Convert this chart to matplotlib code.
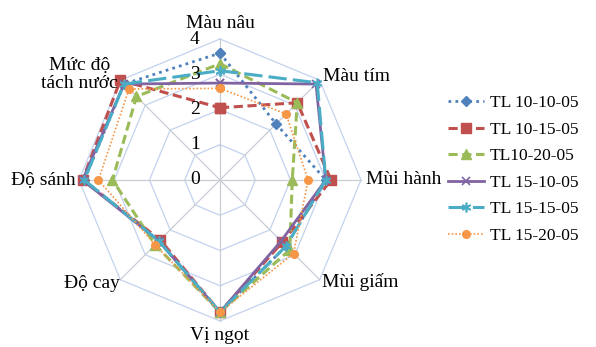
import numpy as np
import matplotlib
matplotlib.use("Agg")
import matplotlib.pyplot as plt
from matplotlib.transforms import offset_copy

plt.rcParams['font.family'] = ['Liberation Serif', 'DejaVu Serif']

# Sensory attributes, clockwise from the top
categories = ["Màu nâu", "Màu tím", "Mùi hành", "Mùi giấm",
              "Vị ngọt", "Độ cay", "Độ sánh", "Mức độ\ntách nước"]

series_names = ["TL 10-10-05", "TL 10-15-05", "TL10-20-05",
                "TL 15-10-05", "TL 15-15-05", "TL 15-20-05"]

tl_10_10_05 = [3.6, 2.25, 3.0, 2.65, 3.75, 2.45, 3.85, 3.85]
tl_10_15_05 = [2.05, 3.1, 3.15, 2.5, 3.75, 2.4, 3.9, 4.0]
tl_10_20_05 = [3.3, 3.1, 2.05, 2.8, 3.75, 2.6, 3.05, 3.35]
tl_15_10_05 = [2.75, 3.85, 3.0, 2.45, 3.75, 2.45, 3.9, 3.85]
tl_15_15_05 = [3.1, 3.9, 3.0, 2.65, 3.75, 2.45, 3.85, 3.85]
tl_15_20_05 = [2.6, 2.65, 2.5, 2.95, 3.75, 2.6, 3.45, 3.65]

scale_ticks = [0, 1, 2, 3, 4]

series_values = [tl_10_10_05, tl_10_15_05, tl_10_20_05,
                 tl_15_10_05, tl_15_15_05, tl_15_20_05]

styles = [
    dict(color="#4F81BD", linestyle=(0, (1, 1.5)), linewidth=2.0, marker="D", markersize=5.5),
    dict(color="#C0504D", linestyle=(0, (3, 1.5)), linewidth=2.2, marker="s", markersize=6.5),
    dict(color="#9BBB59", linestyle=(0, (3, 1.5)), linewidth=2.2, marker="^", markersize=6.5),
    dict(color="#8064A2", linestyle="-", linewidth=2.0, marker="x", markersize=6, markeredgewidth=1.2),
    dict(color="#4BACC6", linestyle=(0, (6, 2)), linewidth=2.2, marker=(6, 2, 0), markersize=7, markeredgewidth=1.2),
    dict(color="#F79646", linestyle=(0, (1, 1.2)), linewidth=1.2, marker="o", markersize=5.5),
]

fig = plt.figure(figsize=(5.96, 3.47), dpi=100)
cx, cy, rad = 220, 180, 141
W, H = 596, 347
ax = fig.add_axes([(cx - rad) / W, (H - cy - rad) / H, 2 * rad / W, 2 * rad / H],
                  projection="polar")
ax.set_theta_zero_location("N")
ax.set_theta_direction(-1)
ax.set_ylim(0, scale_ticks[-1])
ax.grid(False)
ax.set_xticks([])
ax.set_yticks([])
ax.spines["polar"].set_visible(False)
ax.patch.set_visible(False)

n = len(categories)
angles = np.linspace(0, 2 * np.pi, n, endpoint=False)
closed = np.concatenate([angles, angles[:1]])

# Octagonal rings and spokes
for v in scale_ticks[1:]:
    ax.plot(closed, [v] * (n + 1), color="#C2D2EF", linewidth=0.9, zorder=1, clip_on=False)
for a in angles:
    ax.plot([a, a], [0, scale_ticks[-1]], color="#C8CCD4", linewidth=0.9, zorder=1, clip_on=False)

# Scale labels beside the vertical spoke
lab_tr = offset_copy(ax.transData, fig=fig, x=-25, y=0, units="dots")
for v in scale_ticks:
    ax.text(0, v, str(v), transform=lab_tr, ha="center", va="center", fontsize=14, zorder=5)

# Data series
handles = []
for name, vals, st in zip(series_names, series_values, styles):
    r = list(vals) + [vals[0]]
    ln, = ax.plot(closed, r, label=name, clip_on=False, zorder=3,
                  markerfacecolor=st["color"], markeredgecolor=st["color"], **st)
    handles.append(ln)

# Category labels
label_pos = [
    (0, 4.45, "center"),
    (45, 4.15, "left"),
    (90, 4.14, "left"),
    (135, 4.11, "left"),
    (180, 4.40, "center"),
    (224, 4.07, "right"),
    (270, 4.09, "right"),
    (307, 4.98, "center"),
]
for cat, (deg, r, ha) in zip(categories, label_pos):
    ax.text(np.deg2rad(deg), r, cat, ha=ha, va="center", fontsize=14,
            multialignment="center", linespacing=1.05)

fig.legend(handles=handles, loc="upper left", bbox_to_anchor=(448 / W, 1 - 95 / H),
           frameon=False, fontsize=12.5, handlelength=2.1, handletextpad=0.3,
           labelspacing=0.6, borderpad=0, borderaxespad=0)

fig.savefig("out.png", dpi=100)
